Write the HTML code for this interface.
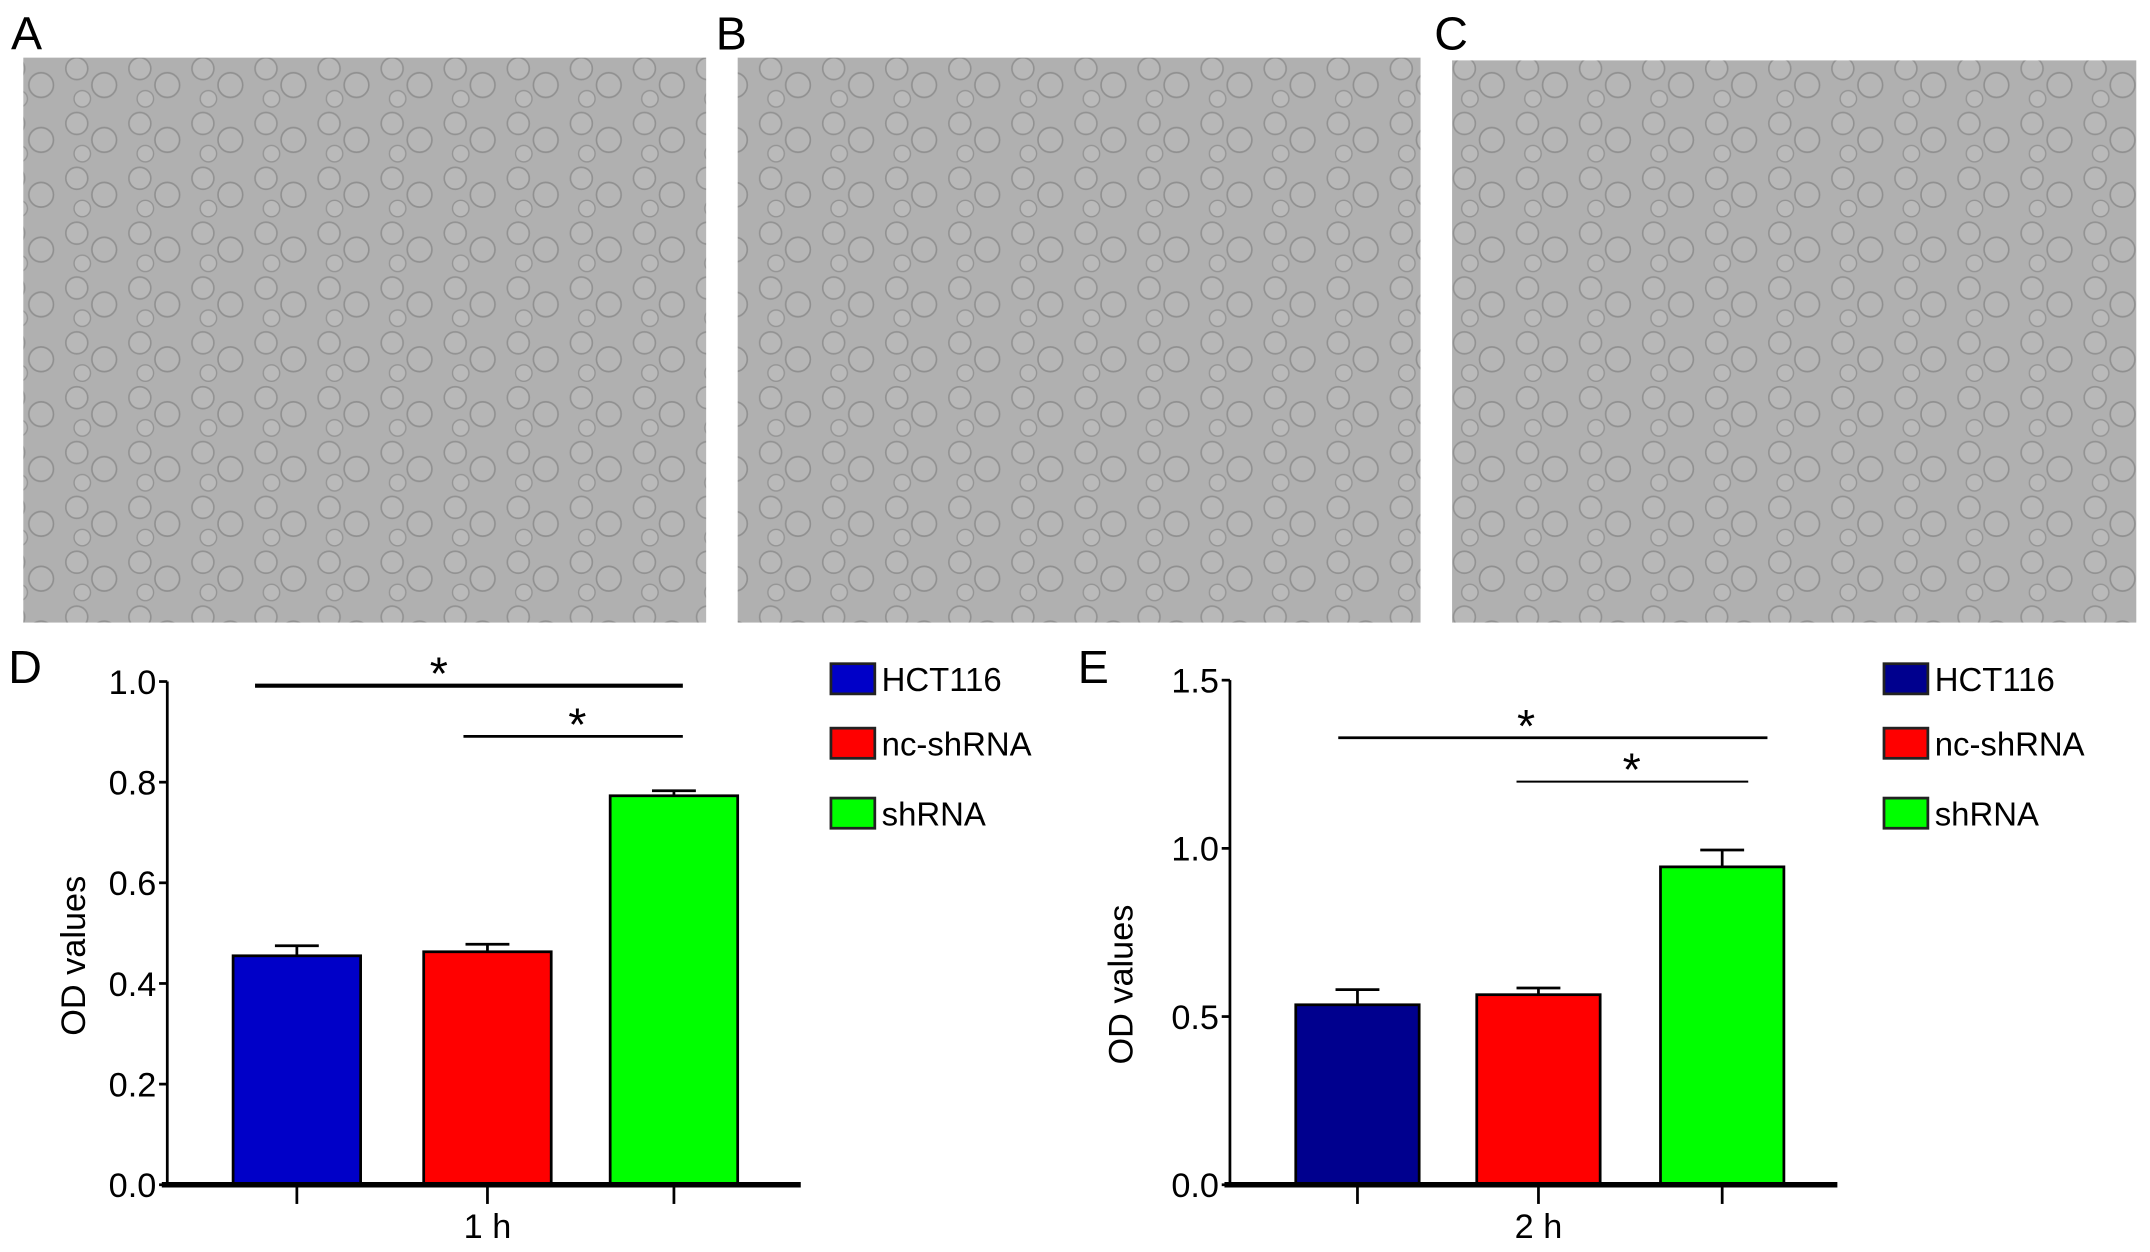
<!DOCTYPE html>
<html><head><meta charset="utf-8"><style>
html,body{margin:0;padding:0;background:#fff;}
svg{display:block;font-family:"Liberation Sans",Arial,sans-serif;}
</style></head><body>
<svg id="fig" width="2150" height="1252" viewBox="0 0 1568 913" xmlns="http://www.w3.org/2000/svg">
<defs>
<pattern id="cells" width="46" height="40" patternUnits="userSpaceOnUse">
<rect width="46" height="40" fill="#b0b0b0"/>
<circle cx="10" cy="10" r="8" fill="#b8b8b8" stroke="#929292" stroke-width="1.2"/>
<circle cx="30" cy="22" r="9" fill="#b6b6b6" stroke="#909090" stroke-width="1.2"/>
<circle cx="14" cy="32" r="6" fill="#bababa" stroke="#949494" stroke-width="1"/>
</pattern>
</defs>
<g>
<rect x="17" y="42" width="498" height="412" fill="url(#cells)"/>
<rect x="538" y="42" width="498" height="412" fill="url(#cells)"/>
<rect x="1059" y="44" width="499" height="410" fill="url(#cells)"/>
</g>
<g font-size="34" fill="#000">
<text x="8" y="36">A</text>
<text x="522" y="36">B</text>
<text x="1046" y="36">C</text>
<text x="6" y="498">D</text>
<text x="786" y="498">E</text>
</g>
<g id="chartD"></g>
<g id="chartE"></g>
</svg>
<script>
const categories = ["HCT116", "nc-shRNA", "shRNA"];
const colorsD = ["#0000c8", "#ff0000", "#00ff00"];
const colorsE = ["#00008e", "#ff0000", "#00ff00"];
const valuesD = [0.455, 0.463, 0.773];
const errorsD = [0.02, 0.015, 0.01];
const ticksD = [0.0, 0.2, 0.4, 0.6, 0.8, 1.0];
const valuesE = [0.535, 0.565, 0.945];
const errorsE = [0.045, 0.02, 0.05];
const ticksE = [0.0, 0.5, 1.0, 1.5];
const NS = "http://www.w3.org/2000/svg";
function mk(parent, tag, attrs, text) {
  const el = document.createElementNS(NS, tag);
  for (const k in attrs) el.setAttribute(k, attrs[k]);
  if (text !== undefined) el.textContent = text;
  parent.appendChild(el);
  return el;
}
function draw(g, cfg, values, errors, ticks, colors) {
  const y = v => cfg.y0 - (v - 0) / cfg.ymax * (cfg.y0 - cfg.yTop);
  const ax = mk(g, "line", {x1: cfg.ax, y1: cfg.yTop, x2: cfg.ax, y2: cfg.y0, stroke: "#000", "stroke-width": 2});
  
  
  ticks.forEach(t => {
    const tl = mk(g, "line", {x1: cfg.ax - 6, y1: y(t), x2: cfg.ax, y2: y(t), stroke: "#000", "stroke-width": 2});
    
    
    const tx = mk(g, "text", {x: cfg.ax - 8, y: y(t) + 9, "text-anchor": "end", "font-size": 25}, t.toFixed(1));
    
    
  });
  values.forEach((v, i) => {
    const x0 = cfg.bx[i], w = cfg.bw;
    const cx = x0 + w / 2;
    const eb = mk(g, "path", {d: `M${cx},${y(v)} V${y(v + errors[i])} M${cx - 16},${y(v + errors[i])} H${cx + 16}`, stroke: "#000", "stroke-width": 2, fill: "none"});
    
    
    const b = mk(g, "rect", {x: x0, y: y(v), width: w, height: cfg.y0 - y(v), fill: colors[i], stroke: "#000", "stroke-width": 2});
    
    
    const tk = mk(g, "line", {x1: cx, y1: cfg.y0, x2: cx, y2: cfg.y0 + 14, stroke: "#000", "stroke-width": 2});
    
    
  });
  const xa = mk(g, "line", {x1: cfg.ax - 4, y1: cfg.y0, x2: cfg.xEnd, y2: cfg.y0, stroke: "#000", "stroke-width": 4});
  
  
  const xl = mk(g, "text", {x: cfg.bx[1] + cfg.bw / 2, y: 903, "text-anchor": "middle", "font-size": 25}, cfg.xlabel);
  
  
  const yl = mk(g, "text", {x: 0, y: 0, "text-anchor": "middle", "font-size": 25, transform: `translate(${cfg.ylx},${cfg.yly}) rotate(-90)`}, "OD values");
  
  
  cfg.sig.forEach(s => {
    const l = mk(g, "line", {x1: s[0], y1: s[2], x2: s[1], y2: s[2], stroke: "#000", "stroke-width": s[3]});
    
    
    const st = mk(g, "text", {x: s[4], y: s[2] + 3, "text-anchor": "middle", "font-size": 34}, "*");
    
    
  });
  categories.forEach((c, i) => {
    const ly = [484, 531, 582][i];
    const lb = mk(g, "rect", {x: cfg.lx, y: ly, width: 32, height: 22, fill: colors[i], stroke: "#222", "stroke-width": 2});
    
    
    const lt = mk(g, "text", {x: cfg.lx + 37, y: ly + 20, "font-size": 24}, c);
    
    
  });
}
draw(document.getElementById('chartD'),
  {ax: 122, y0: 864, yTop: 497, ymax: 1.0, bx: [170, 309, 445], bw: 93, xEnd: 584, xlabel: "1 h", ylx: 62, yly: 697, lx: 606,
   sig: [[186, 498, 500, 3, 320], [338, 498, 537, 2, 421]]},
  valuesD, errorsD, ticksD, colorsD);
draw(document.getElementById('chartE'),
  {ax: 897, y0: 864, yTop: 496, ymax: 1.5, bx: [945, 1077, 1211], bw: 90, xEnd: 1340, xlabel: "2 h", ylx: 826, yly: 718, lx: 1374,
   sig: [[976, 1289, 538, 2, 1113], [1106, 1275, 570, 1.5, 1190]]},
  valuesE, errorsE, ticksE, colorsE);
</script>
</body></html>
